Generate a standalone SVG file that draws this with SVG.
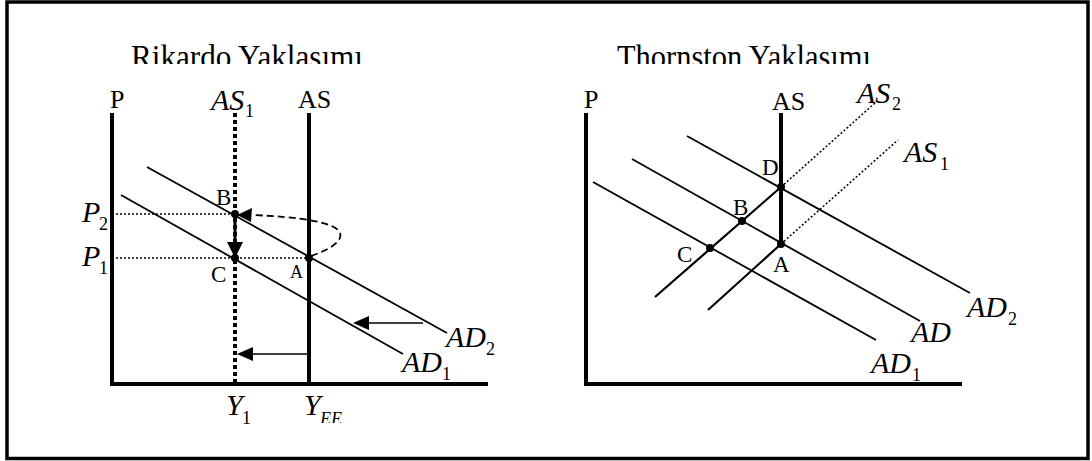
<svg xmlns="http://www.w3.org/2000/svg" width="1092" height="461" viewBox="0 0 1092 461">
<style>
text{font-family:"Liberation Serif","Times New Roman",serif;fill:#000}
.up{font-size:26px}
.pt{font-size:23px}
.it{font-size:30px;font-style:italic}
.sub{font-size:18px}
.subi{font-size:18px;font-style:italic}
.title{font-size:34px}
.axis{fill:none;stroke:#000;stroke-width:4}
.as{stroke:#000;stroke-width:4}
.asdot{stroke:#000;stroke-width:4;stroke-dasharray:4 3}
.ad{stroke:#000;stroke-width:1.8}
.guide{stroke:#000;stroke-width:1.5;stroke-dasharray:2 2}
.diag{stroke:#000;stroke-width:2.2}
.dot{fill:#000}
</style>
<defs>
<clipPath id="titleClip"><rect x="0" y="0" width="1092" height="64"/></clipPath>
<clipPath id="yeeClip"><rect x="0" y="380" width="1092" height="43"/></clipPath>
</defs>
<rect x="7" y="2" width="1081" height="456.5" fill="#fff" stroke="#000" stroke-width="3.5"/>

<g id="titles" clip-path="url(#titleClip)">
<text class="title" x="131" y="68" textLength="232" lengthAdjust="spacingAndGlyphs">Rikardo Yaklasımı</text>
<text class="title" x="617" y="68" textLength="254" lengthAdjust="spacingAndGlyphs">Thornston Yaklasımı</text>
</g>

<g id="left-axes">
<path class="axis" d="M112 113 V384 H488"/>
<text class="up" x="110" y="108">P</text>
<text class="it" x="304" y="415">Y</text>
<text class="subi" x="320" y="425" clip-path="url(#yeeClip)">EE</text>
<text class="it" x="226" y="415">Y</text>
<text class="sub" x="242" y="424">1</text>
</g>

<g id="left-as1">
<line class="asdot" x1="235" y1="113" x2="235" y2="384"/>
<text class="it" x="211" y="110">AS</text>
<text class="sub" x="245" y="117">1</text>
</g>
<g id="left-as">
<line class="as" x1="309" y1="113" x2="309" y2="384"/>
<text class="up" x="298" y="108">AS</text>
</g>
<g id="left-ad2">
<line class="ad" x1="147" y1="167" x2="447" y2="333"/>
<text class="it" x="446" y="347">AD</text>
<text class="sub" x="486" y="355">2</text>
</g>
<g id="left-ad1">
<line class="ad" x1="121" y1="195" x2="403" y2="354"/>
<text class="it" x="402" y="372">AD</text>
<text class="sub" x="442" y="380">1</text>
</g>
<g id="left-p-levels">
<line class="guide" x1="112" y1="214" x2="235" y2="214"/>
<line class="guide" x1="112" y1="258" x2="309" y2="258"/>
<text class="it" x="82" y="222">P</text>
<text class="sub" x="99" y="230">2</text>
<text class="it" x="82" y="266">P</text>
<text class="sub" x="99" y="274">1</text>
</g>
<g id="left-B">
<circle class="dot" cx="235" cy="214" r="4"/>
<text class="pt" x="216" y="205">B</text>
</g>
<g id="left-C">
<circle class="dot" cx="235" cy="258" r="4"/>
<text class="pt" x="211" y="282">C</text>
</g>
<g id="left-A">
<circle class="dot" cx="309" cy="258" r="4"/>
<text x="290" y="278" style="font-size:18px">A</text>
</g>

<g id="left-connectors">
<line x1="235" y1="214" x2="235" y2="244" stroke="#000" stroke-width="3"/>
<polygon points="227,242 243,242 235,258" fill="#000"/>
<path d="M311 256 C328 250 343 242 340 233 C336 222 300 217 252 215" fill="none" stroke="#000" stroke-width="1.8" stroke-dasharray="7 4"/>
<polygon points="237,215 252,208 251,222" fill="#000"/>
<line x1="423" y1="323" x2="365" y2="323" stroke="#000" stroke-width="1.5"/>
<polygon points="353,323 369,316 369,330" fill="#000"/>
<line x1="309" y1="354" x2="250" y2="354" stroke="#000" stroke-width="1.5"/>
<polygon points="237,354 253,347 253,361" fill="#000"/>
</g>

<g id="right-axes">
<path class="axis" d="M586 113 V384 H962"/>
<text class="up" x="584" y="108">P</text>
</g>
<g id="right-as">
<line class="as" x1="781" y1="113" x2="781" y2="244"/>
<text class="up" x="772" y="110">AS</text>
</g>
<g id="right-as2">
<line class="guide" x1="781" y1="187" x2="875" y2="103"/>
<text class="it" x="857" y="103">AS</text>
<text class="sub" x="892" y="110">2</text>
</g>
<g id="right-as1">
<line class="guide" x1="781" y1="244" x2="898" y2="140"/>
<text class="it" x="904" y="162">AS</text>
<text class="sub" x="940" y="170">1</text>
</g>
<g id="right-ad2">
<line class="ad" x1="687" y1="136" x2="970" y2="293"/>
<text class="it" x="967" y="317">AD</text>
<text class="sub" x="1008" y="325">2</text>
</g>
<g id="right-ad">
<line class="ad" x1="632" y1="159" x2="920" y2="321"/>
<text class="it" x="911" y="342">AD</text>
</g>
<g id="right-ad1">
<line class="ad" x1="593" y1="182" x2="876" y2="340"/>
<text class="it" x="871" y="373">AD</text>
<text class="sub" x="912" y="381">1</text>
</g>
<g id="right-connectors">
<line class="diag" x1="655" y1="297" x2="781" y2="187"/>
<line class="diag" x1="708" y1="310" x2="781" y2="244"/>
</g>
<g id="right-D">
<circle class="dot" cx="781" cy="187" r="4"/>
<text class="pt" x="762" y="175">D</text>
</g>
<g id="right-B">
<circle class="dot" cx="742" cy="221" r="4"/>
<text class="pt" x="733" y="215">B</text>
</g>
<g id="right-C">
<circle class="dot" cx="710" cy="248" r="4"/>
<text class="pt" x="677" y="262">C</text>
</g>
<g id="right-A">
<circle class="dot" cx="781" cy="244" r="4"/>
<text class="pt" x="773" y="272">A</text>
</g>
</svg>
